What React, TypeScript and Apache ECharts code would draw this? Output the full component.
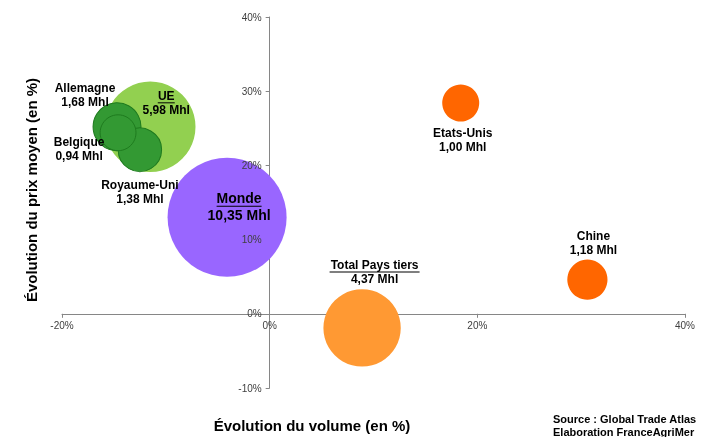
import React, { useEffect, useRef } from "react";
import * as echarts from "echarts";

// ---- Data ----
const names = ["Monde", "Total Pays tiers", "Etats-Unis", "Chine", "UE", "Allemagne", "Royaume-Uni", "Belgique"];
const volumes = [10.35, 4.37, 1.0, 1.18, 5.98, 1.68, 1.38, 0.94]; // Mhl
const volumeChange = [-4.1, 8.9, 18.4, 30.6, -11.5, -14.7, -12.5, -14.6]; // %
const priceChange = [13.0, -1.9, 28.4, 4.6, 25.2, 25.2, 22.1, 24.4]; // %
const xMin = -20, xMax = 40, xStep = 20;
const yMin = -10, yMax = 40, yStep = 10;

// ---- Styles / layout ----
const fills = ["#9966FF", "#FF9933", "#FF6600", "#FF6600", "#92D050", "#339933", "#339933", "#339933"];
const borders = ["#9966FF", "#FF9933", "#FF6600", "#FF6600", "#92D050", "#1E7A1E", "#1E7A1E", "#1E7A1E"];
const labelOffsets = [[12, -10], [12.5, -56], [2, 37], [6, -37], [16, -24], [-32, -31.5], [0, 42], [-39, 16.5]];
const underlineWidths = [45, 90, 0, 0, 17, 0, 0, 0];
const FONT = "'Liberation Sans', Arial, Helvetica, sans-serif";
const W = 708, H = 437;
const GRID = { left: 62, right: 23, top: 17, bottom: 49 };

const fmtVol = (v: number) => v.toFixed(2).replace(".", ",") + " Mhl";

export default function App() {
  const ref = useRef<HTMLDivElement>(null);
  useEffect(() => {
    if (!ref.current) return;
    const chart = echarts.init(ref.current, null, { renderer: "svg" });
    const plotW = W - GRID.left - GRID.right;
    const plotH = H - GRID.top - GRID.bottom;
    // shift axes so they cross at zero (labels follow the lines)
    const yAxisOffset = -plotW * (0 - xMin) / (xMax - xMin);
    const xAxisOffset = -plotH * (0 - yMin) / (yMax - yMin);
    const data = names.map((n, i) => {
      const big = n === "Monde";
      const ul = underlineWidths[i];
      const formatter = ul
        ? `{n|${n}}\n{ul| }\n{v|${fmtVol(volumes[i])}}`
        : `{n|${n}}\n{v|${fmtVol(volumes[i])}}`;
      const fs = big ? 14 : 12;
      return {
        name: n,
        value: [volumeChange[i], priceChange[i], volumes[i]],
        itemStyle: { color: fills[i], opacity: 1, borderColor: borders[i], borderWidth: borders[i] === fills[i] ? 0 : 1 },
        label: {
          show: true,
          position: "inside",
          offset: labelOffsets[i],
          formatter,
          align: "center",
          verticalAlign: "middle",
          rich: {
            n: { fontFamily: FONT, fontWeight: "bold", fontSize: fs, color: "#000", lineHeight: ul ? (big ? 14 : 12) : 14, align: "center" },
            ul: { width: ul, height: 1, lineHeight: 2, fontSize: 1, backgroundColor: "#000", align: "center" },
            v: { fontFamily: FONT, fontWeight: "bold", fontSize: fs, color: "#000", lineHeight: ul ? (big ? 16 : 12) : 14, align: "center" },
          },
        },
      };
    });
    const axisLabel = { formatter: (v: number) => v + "%", color: "#404040", fontSize: 10, fontFamily: FONT };
    const lineAxis = {
      splitLine: { show: false },
      axisLine: { onZero: false, lineStyle: { color: "#868686", width: 1 } },
      axisTick: { show: true, length: 4, lineStyle: { color: "#868686" } },
      axisLabel: { show: false },
      z: 0,
    };
    const labelAxis = {
      splitLine: { show: false },
      axisLine: { show: false, onZero: false },
      axisTick: { show: false },
      z: 5,
    };
    chart.setOption({
      animation: false,
      grid: GRID,
      xAxis: [
        { type: "value", min: xMin, max: xMax, interval: xStep, position: "bottom", offset: xAxisOffset, ...lineAxis },
        { type: "value", min: xMin, max: xMax, interval: xStep, position: "bottom", offset: xAxisOffset, ...labelAxis, axisLabel: { ...axisLabel, margin: 7 } },
      ],
      yAxis: [
        { type: "value", min: yMin, max: yMax, interval: yStep, position: "left", offset: yAxisOffset, ...lineAxis },
        { type: "value", min: yMin, max: yMax, interval: yStep, position: "left", offset: yAxisOffset, ...labelAxis, axisLabel: { ...axisLabel, margin: 8 } },
      ],
      series: [
        {
          type: "scatter",
          symbol: "circle",
          xAxisIndex: 0,
          yAxisIndex: 0,
          symbolSize: (val: number[]) => 37 * Math.sqrt(val[2]),
          data,
          emphasis: { disabled: true },
        },
      ],
      graphic: [
        {
          type: "text",
          x: 31,
          y: 190,
          rotation: Math.PI / 2,
          style: { text: "Évolution du prix moyen (en %)", font: `bold 15px ${FONT}`, fill: "#000", align: "center", verticalAlign: "middle" },
        },
        {
          type: "text",
          x: 312,
          y: 425,
          style: { text: "Évolution du volume (en %)", font: `bold 15px ${FONT}`, fill: "#000", align: "center", verticalAlign: "middle" },
        },
        {
          type: "text",
          x: 553,
          y: 419,
          style: { text: "Source : Global Trade Atlas", font: `bold 11px ${FONT}`, fill: "#000", align: "left", verticalAlign: "middle" },
        },
        {
          type: "text",
          x: 553,
          y: 432,
          style: { text: "Elaboration FranceAgriMer", font: `bold 11px ${FONT}`, fill: "#000", align: "left", verticalAlign: "middle" },
        },
      ],
    });
    return () => chart.dispose();
  }, []);
  return <div ref={ref} style={{ position: "fixed", left: 0, top: 0, width: W, height: H }} />;
}
